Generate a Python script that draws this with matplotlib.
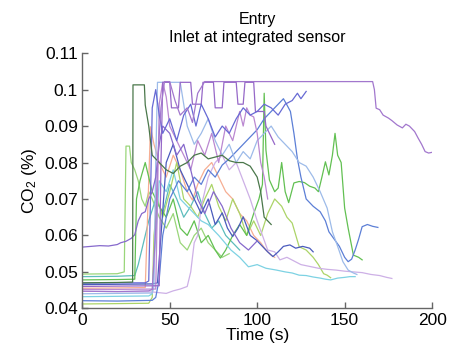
import matplotlib
matplotlib.use('Agg')
import matplotlib.pyplot as plt

plt.rcParams['font.family'] = ['Liberation Sans', 'DejaVu Sans']
plt.rcParams['mathtext.fontset'] = 'custom'
plt.rcParams['mathtext.rm'] = 'Liberation Sans'
plt.rcParams['mathtext.it'] = 'Liberation Sans'

# CO2 traces: (time s, CO2 %) per run
t_purple_long = [0, 20, 38, 40, 42, 43, 45, 47, 50, 53, 56, 60, 63, 66, 70, 166, 167, 168, 170, 172, 175, 177, 180, 183, 185, 187, 190, 192, 194, 196, 198, 200]
v_purple_long = [.0447, .0446, .0448, .0452, .062, .080, .095, .1022, .1022, .097, .093, .095, .091, .099, .1022, .1022, .100, .0949, .0945, .093, .0922, .0915, .0903, .0895, .0905, .090, .0885, .0867, .085, .0830, .0826, .0828]

t_violet = [0, 5, 10, 15, 20, 22, 25, 28, 30, 32, 34, 36, 38, 40, 42, 44, 46, 50, 54, 58, 62, 66, 70, 75, 80, 85, 90, 95, 100]
v_violet = [.0568, .0570, .0572, .0571, .0575, .0580, .0584, .0592, .0602, .0640, .0660, .0665, .0700, .0720, .0760, .0850, .0900, .0880, .0820, .0850, .0780, .0700, .0660, .0720, .0680, .0620, .0580, .0560, .0585]

t_blue_top = [0, 20, 36, 38, 39, 40, 42, 44, 46, 50, 54, 58, 62, 65, 68, 72, 76, 80, 84, 88, 92, 96, 100, 104, 108, 112, 116, 120, 123, 125, 128]
v_blue_top = [.0469, .0470, .0470, .0475, .0700, .0950, .1000, .0930, .0880, .0920, .0860, .0930, .0960, .0900, .0960, .0920, .0870, .0900, .0880, .0920, .0950, .0930, .0940, .0960, .0950, .0930, .0960, .0970, .0990, .0975, .0995]

t_blue = [0, 20, 40, 42, 44, 46, 50, 55, 60, 64, 68, 72, 76, 80, 84, 88, 92, 96, 100, 104, 108, 112, 115, 117, 119, 121, 123, 125, 128, 132, 136, 139, 141, 144, 147, 150, 152, 154, 156, 158, 160, 163, 166, 169]
v_blue = [.0421, .0420, .0422, .0430, .0480, .0600, .0700, .0750, .0720, .0760, .0740, .0780, .0760, .0793, .0810, .0830, .0850, .0870, .0890, .0920, .0940, .0960, .0975, .0958, .0940, .0880, .0810, .0760, .0700, .0680, .0665, .0640, .0610, .0590, .0570, .0540, .0528, .0535, .0560, .0590, .0624, .0630, .0625, .0622]

t_lightblue = [0, 20, 40, 41, 42, 43, 48, 52, 56, 60, 64, 68, 72, 76, 80, 84, 88, 92, 96, 100, 104, 108, 112, 116, 120, 124, 128, 132, 136, 140, 143, 146, 149, 152, 155, 157]
v_lightblue = [.0440, .0441, .0442, .0460, .0800, .1020, .1020, .1020, .1020, .0900, .0850, .0880, .0920, .0860, .0820, .0850, .0800, .0830, .0810, .0860, .0880, .0900, .0870, .0850, .0830, .0800, .0790, .0760, .0720, .0675, .0610, .0570, .0528, .0505, .0497, .0493]

t_green = [0, 20, 30, 31, 33, 36, 40, 44, 48, 52, 56, 60, 64, 68, 72, 76, 79, 82, 86, 90, 94, 98, 101, 103, 104, 105, 107, 110, 112, 114, 116, 118, 121, 124, 127, 130, 133, 135, 137, 139, 141, 143, 144.5, 146, 148, 150, 152, 155, 158, 160]
v_green = [.0478, .0479, .0480, .0700, .0750, .0800, .0720, .0680, .0650, .0700, .0620, .0600, .0640, .0580, .0600, .0560, .0538, .0560, .0600, .0630, .0600, .0660, .0700, .0740, .0990, .0834, .0752, .0720, .0730, .0800, .0720, .0690, .0744, .0748, .0745, .0735, .0730, .0720, .0760, .0802, .0766, .0820, .0880, .0820, .0800, .0675, .0620, .0546, .0540, .0533]

t_cyan = [0, 20, 38, 40, 42, 44, 48, 52, 56, 60, 64, 68, 72, 75, 78, 81, 85, 90, 95, 100, 105, 111, 116, 120, 124, 128, 132, 136, 139, 142, 146, 150, 153, 156]
v_cyan = [.0432, .0433, .0434, .0440, .0600, .0750, .0720, .0780, .0700, .0680, .0660, .0640, .0630, .0615, .0600, .0583, .0560, .0540, .0514, .0520, .0510, .0505, .0500, .0497, .0491, .0490, .0486, .0483, .0480, .0478, .0483, .0485, .0487, .0487]

t_lavender = [0, 20, 40, 44, 48, 52, 56, 60, 62, 63, 64, 66, 68, 72, 76, 80, 84, 88, 92, 96, 100, 103, 106, 110, 113, 117, 121, 125, 130, 135, 140, 145, 150, 155, 160, 165, 170, 174, 177]
v_lavender = [.0447, .0446, .0445, .0443, .0441, .0448, .0453, .0460, .0500, .0540, .0580, .0600, .0680, .0760, .0800, .0820, .0780, .0800, .0750, .0700, .0640, .0600, .0560, .0555, .0533, .0540, .0530, .0520, .0515, .0510, .0507, .0505, .0502, .0500, .0498, .0493, .0490, .0485, .0482]

t_yellowgreen = [0, 20, 38, 40, 41, 43, 46, 50, 54, 58, 62, 66, 70, 74, 78, 82, 86, 90, 94, 98, 102, 106, 110, 114, 117, 120, 124, 128, 132, 135, 138, 140, 142]
v_yellowgreen = [.0412, .0413, .0414, .0430, .0600, .0700, .0650, .0720, .0800, .0700, .0680, .0650, .0700, .0740, .0680, .0640, .0700, .0660, .0600, .0640, .0600, .0660, .0700, .0680, .0650, .0634, .0569, .0560, .0540, .0520, .0495, .0491, .0484]

t_darkblue = [0, 20, 40, 43, 45, 48, 52, 56, 60, 64, 68, 72, 76, 80, 83, 86, 89, 92, 96, 99.6, 103, 106, 109, 112, 115, 118.7, 122, 126, 130, 132]
v_darkblue = [.0465, .0466, .0467, .0470, .0600, .0800, .0850, .0780, .0740, .0700, .0660, .0700, .0630, .0662, .0620, .0597, .0620, .0651, .0600, .0587, .0570, .0555, .0542, .0555, .0570, .0574, .0565, .0570, .0565, .0555]

t_salmon = [0, 20, 36, 37, 39, 41, 44, 48, 52, 56, 60, 63, 66, 70, 74, 78, 82, 86, 90, 94, 98, 102, 105, 108, 110]
v_salmon = [.0455, .0456, .0457, .0600, .0898, .0850, .0800, .0760, .0820, .0780, .0720, .0697, .0740, .0780, .0800, .0760, .0720, .0700, .0660, .0640, .0600, .0580, .0560, .0546, .0540]

t_lightgreen = [0, 20, 24, 25, 26, 27, 28, 30, 32, 34, 36, 38, 40, 44, 48, 52, 56, 60, 64, 68, 72, 76, 80, 84]
v_lightgreen = [.0494, .0495, .0500, .0845, .0845, .0845, .0800, .0780, .0750, .0700, .0680, .0720, .0700, .0650, .0620, .0660, .0580, .0560, .0600, .0620, .0580, .0560, .0540, .0550]

t_darkgreen = [0, 20, 28, 28.8, 29, 35, 35.5, 36, 38, 40, 44, 48, 52, 56, 60, 64, 68, 72, 76, 80, 84, 88, 92, 96, 100, 102, 104, 106, 108]
v_darkgreen = [.0470, .0471, .0472, .0472, .1013, .1013, .1013, .0958, .0900, .0820, .0800, .0780, .0770, .0790, .0800, .0820, .0826, .0810, .0815, .0820, .0805, .0800, .0800, .0790, .0760, .0720, .0650, .0640, .0630]

t_teal = [0, 20, 30, 32, 34, 38, 42, 46, 50, 54, 58, 62, 66, 70, 74, 78, 82, 86, 90]
v_teal = [.0487, .0488, .0490, .0520, .0560, .0640, .0700, .0660, .0740, .0700, .0650, .0680, .0720, .0660, .0620, .0640, .0600, .0580, .0560]

t_mauve = [0, 20, 42, 43, 44, 46, 48, 50, 54, 58, 62, 66, 70, 74, 78, 82, 86, 90, 92, 94, 96, 98, 100, 102, 104, 106]
v_mauve = [.0452, .0452, .0453, .0700, .0960, .1020, .0980, .0900, .0860, .0820, .0780, .0860, .0820, .0880, .0800, .0900, .0860, .0940, .0900, .0950, .0930, .0925, .0880, .0800, .0760, .0700]

t_purple_steps = [0, 20, 44, 45, 46, 50, 51, 55, 56, 62, 63, 68, 69, 75, 76, 80, 81, 88, 89, 92, 93, 98, 99, 104, 105, 110]
v_purple_steps = [.0460, .0461, .0462, .0800, .1020, .1020, .0950, .0950, .1020, .1020, .0960, .0960, .1020, .1020, .0950, .0950, .1020, .1020, .0960, .0960, .1020, .1020, .0940, .0940, .0900, .0850]

runs = [
    (t_lightgreen, v_lightgreen, '#9ad67a'),
    (t_teal, v_teal, '#5cbcbc'),
    (t_salmon, v_salmon, '#f6ae93'),
    (t_yellowgreen, v_yellowgreen, '#acd468'),
    (t_green, v_green, '#62c052'),
    (t_cyan, v_cyan, '#7dd2e3'),
    (t_lavender, v_lavender, '#cdb0e6'),
    (t_darkblue, v_darkblue, '#4a5bbd'),
    (t_blue, v_blue, '#5c7fd6'),
    (t_lightblue, v_lightblue, '#9dbbe9'),
    (t_mauve, v_mauve, '#bb88d1'),
    (t_purple_steps, v_purple_steps, '#9668c8'),
    (t_blue_top, v_blue_top, '#676ad4'),
    (t_violet, v_violet, '#8669cc'),
    (t_darkgreen, v_darkgreen, '#4a774a'),
    (t_purple_long, v_purple_long, '#a277cd'),
]

fig = plt.figure(figsize=(4.52, 3.52), dpi=100)
ax = fig.add_axes([0.182, 0.124, 0.774, 0.725])

for t, v, c in runs:
    ax.plot(t, v, color=c, lw=0.9)

ax.set_xlim(0, 200)
ax.set_ylim(0.04, 0.11)
ax.set_xticks([0, 50, 100, 150, 200])
ax.set_yticks([0.04, 0.05, 0.06, 0.07, 0.08, 0.09, 0.1, 0.11])
ax.set_yticklabels(['0.04', '0.05', '0.06', '0.07', '0.08', '0.09', '0.1', '0.11'])
ax.spines['top'].set_visible(False)
ax.spines['right'].set_visible(False)
for s in ['left', 'bottom']:
    ax.spines[s].set_color('#666666')
    ax.spines[s].set_linewidth(1.0)
ax.tick_params(direction='in', length=4, width=1, color='#666666', labelsize=12.5, pad=3)

ax.set_xlabel('Time (s)', fontsize=12.5, labelpad=0)
ax.set_ylabel(r'CO$_2$ (%)', fontsize=12.5, labelpad=4)
ax.set_title('Entry\nInlet at integrated sensor', fontsize=11.5, pad=8, linespacing=1.25)

fig.savefig('out.png', dpi=100)
